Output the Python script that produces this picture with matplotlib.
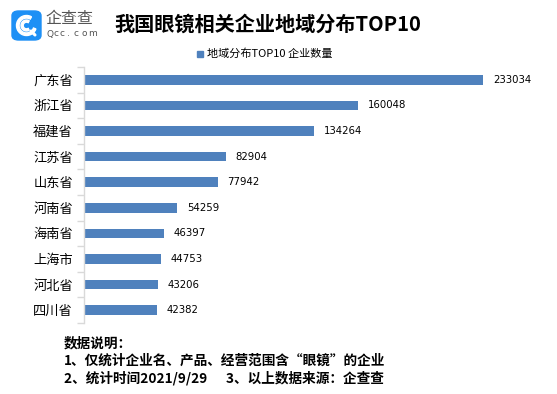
import matplotlib
matplotlib.use("Agg")
import matplotlib.pyplot as plt
from matplotlib.patches import FancyBboxPatch, Wedge
import numpy as np

plt.rcParams['font.family'] = ['Noto Sans CJK SC', 'DejaVu Sans']

provinces = ["广东省", "浙江省", "福建省", "江苏省", "山东省", "河南省", "海南省", "上海市", "河北省", "四川省"]
counts = [233034, 160048, 134264, 82904, 77942, 54259, 46397, 44753, 43206, 42382]
title = "我国眼镜相关企业地域分布TOP10"
legend_label = "地域分布TOP10 企业数量"
notes = ["数据说明：",
         "1、仅统计企业名、产品、经营范围含“眼镜”的企业",
         "2、统计时间2021/9/29      3、以上数据来源：企查查"]

W, H = 557, 394
fig = plt.figure(figsize=(W / 100, H / 100), dpi=100)
fig.patch.set_facecolor("white")

bar_color = "#4f81bd"
ax = fig.add_axes([84 / W, 1 - 323 / H, (540 - 84) / W, (323 - 67) / H])
y = np.arange(len(provinces))
ax.barh(y, counts, height=0.37, color=bar_color)
ax.set_ylim(len(provinces) - 0.5, -0.5)
ax.set_xlim(0, 266000)
ax.set_yticks(y)
ax.set_yticklabels(provinces, fontsize=9.5, color="black")
ax.set_yticks(np.arange(-0.5, len(provinces) + 0.5, 1), minor=True)
ax.tick_params(axis="y", which="major", length=0, pad=8)
ax.tick_params(axis="y", which="minor", length=5, color="#d9d9d9", width=1)
ax.set_xticks([])
for s in ["top", "right", "bottom"]:
    ax.spines[s].set_visible(False)
ax.spines["left"].set_color("#d9d9d9")
ax.spines["left"].set_linewidth(1)

for yi, v in zip(y, counts):
    ax.annotate(str(v), (v, yi), xytext=(7, 0), textcoords="offset points",
                va="center", ha="left", fontsize=7.3, color="black",
                family=["DejaVu Sans"])

# title
fig.text(268 / W, 1 - 24 / H, title, ha="center", va="center",
         fontsize=14.5, fontweight="bold", color="black")

# legend
fig.patches.append(plt.Rectangle((197 / W, 1 - 57 / H), 6 / W, 6 / H,
                                 transform=fig.transFigure, color=bar_color))
fig.text(207 / W, 1 - 54 / H, legend_label, ha="left", va="center",
         fontsize=8, color="black")

# logo
logo = FancyBboxPatch((12 / W, 1 - 40 / H), 29 / W, 29 / H,
                      boxstyle="round,pad=0,rounding_size=0.012",
                      transform=fig.transFigure, color="#1e90f5", zorder=5)
fig.patches.append(logo)
lax = fig.add_axes([12 / W, 1 - 40 / H, 29 / W, 29 / H])
lax.set_xlim(0, 29); lax.set_ylim(0, 29); lax.axis("off")
lax.set_zorder(6)
lax.add_patch(Wedge((14.5, 14.5), 10, 60, 340, width=2.6, color="white"))
lax.add_patch(Wedge((14.5, 14.5), 5.5, 60, 300, width=2.2, color="white"))
lax.plot([19, 23], [9, 5], color="white", lw=2.2, solid_capstyle="round")
fig.text(45 / W, 1 - 19 / H, "企查查", ha="left", va="center",
         fontsize=11.5, color="#555555")
for i, ch in enumerate("Qcc.com"):
    fig.text((46 + i * 7) / W, 1 - 34 / H, ch, ha="left", va="center",
             fontsize=6.5, color="#555555", family=["DejaVu Sans"])

# notes
for i, line in enumerate(notes):
    fig.text(64 / W, 1 - (343 + i * 17.5) / H, line, ha="left", va="center",
             fontsize=9.8, fontweight="bold", color="black")

fig.savefig("out.png", dpi=100, facecolor="white")
